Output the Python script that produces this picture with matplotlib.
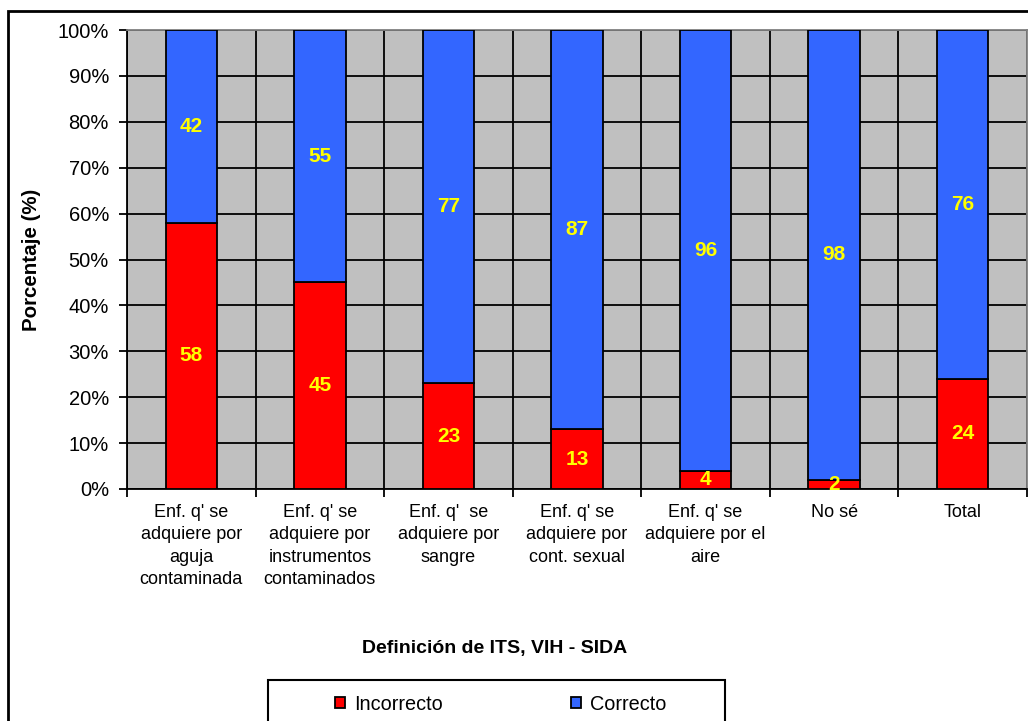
import matplotlib
matplotlib.use("Agg")
import matplotlib.pyplot as plt
from matplotlib.patches import Rectangle
import numpy as np

plt.rcParams["font.family"] = ["Liberation Sans", "DejaVu Sans"]

categories = [
    "Enf. q' se\nadquiere por\naguja\ncontaminada",
    "Enf. q' se\nadquiere por\ninstrumentos\ncontaminados",
    "Enf. q'  se\nadquiere por\nsangre",
    "Enf. q' se\nadquiere por\ncont. sexual",
    "Enf. q' se\nadquiere por el\naire",
    "No sé",
    "Total",
]
incorrecto = [58, 45, 23, 13, 4, 2, 24]
correcto = [42, 55, 77, 87, 96, 98, 76]
yticks = list(range(0, 101, 10))

RED = "#FF0000"
BLUE = "#3366FF"
GRAY = "#C0C0C0"
YELLOW = "#FFFF00"

fig = plt.figure(figsize=(10.28, 7.21), dpi=100)
ax = fig.add_axes([127 / 1028, 1 - 489 / 721, 900 / 1028, 459 / 721])
ax.set_facecolor(GRAY)

x = np.arange(len(categories))
b1 = ax.bar(x, incorrecto, width=0.4, color=RED, edgecolor="black", lw=1.3,
            label="Incorrecto", zorder=3)
b2 = ax.bar(x, correcto, width=0.4, bottom=incorrecto, color=BLUE,
            edgecolor="black", lw=1.3, label="Correcto", zorder=3)

for xi, lo, hi in zip(x, incorrecto, correcto):
    ax.text(xi, lo / 2, str(lo), ha="center", va="center", color=YELLOW,
            fontsize=15, fontweight="bold", zorder=4)
    ax.text(xi, lo + hi / 2, str(hi), ha="center", va="center", color=YELLOW,
            fontsize=15, fontweight="bold", zorder=4)

ax.set_xlim(-0.5, len(categories) - 0.5)
ax.set_ylim(0, 100)
ax.set_yticks(yticks)
ax.set_yticklabels([f"{v}%" for v in yticks], fontsize=14.5)
ax.yaxis.grid(True, color="black", lw=1.3, zorder=1)

# category boundaries: vertical grid + ticks
bounds = np.arange(-0.5, len(categories) + 0.5, 1)
ax.set_xticks(bounds)
ax.set_xticklabels([])
ax.xaxis.grid(True, color="black", lw=1.3, zorder=1)
ax.set_xticks(x, minor=True)
ax.set_xticklabels(categories, minor=True, fontsize=13, linespacing=1.4)
ax.tick_params(axis="x", which="minor", length=0, pad=11)
ax.tick_params(axis="x", which="major", length=6, width=1.3, direction="out")
ax.tick_params(axis="y", length=6, width=1.3, direction="out", pad=7)

for s in ["left", "bottom"]:
    ax.spines[s].set_color("black")
    ax.spines[s].set_linewidth(1.3)
for s in ["top", "right"]:
    ax.spines[s].set_color("#808080")
    ax.spines[s].set_linewidth(1.3)

ax.set_ylabel("Porcentaje (%)", fontsize=14.8, fontweight="bold", labelpad=12)
fig.text(495 / 1028, 1 - 648 / 721, "Definición de ITS, VIH - SIDA",
         ha="center", va="center", fontsize=14, fontweight="bold")

# legend frame drawn separately so the entries can sit inside with wide margins
fig.patches.append(Rectangle((268 / 1028, -0.1), 457 / 1028, 0.1 + 1 - 680 / 721,
                             transform=fig.transFigure, fill=False,
                             edgecolor="black", lw=1.5, zorder=1))
leg = fig.legend(handles=[b1, b2], loc="center left", ncol=2,
                 bbox_to_anchor=(335 / 1028, 1 - 704 / 721),
                 fontsize=14.3, frameon=False, handlelength=0.5,
                 handleheight=0.5, handletextpad=0.45, columnspacing=6.45,
                 borderpad=0, borderaxespad=0)

fig.patches.append(Rectangle((8 / 1028, -0.1), 1.1, 1 - 10.7 / 721 + 0.1,
                             transform=fig.transFigure, fill=False,
                             edgecolor="black", lw=2, zorder=0))

fig.savefig("out.png", dpi=100)
